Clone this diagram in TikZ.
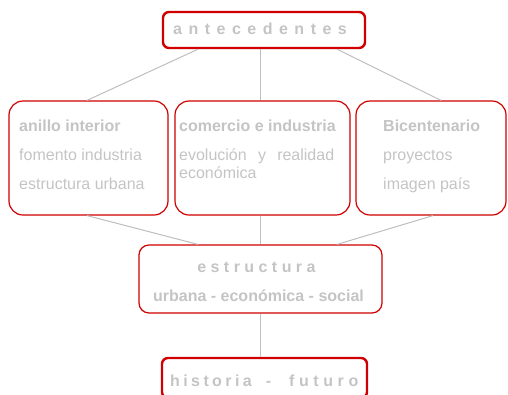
\documentclass[tikz,border=0pt]{standalone}
\usepackage{fontspec}
\setmainfont{Liberation Sans}
\definecolor{rojo}{RGB}{208,0,0}
\definecolor{gris}{RGB}{196,196,196}
\definecolor{linea}{RGB}{190,190,190}

\begin{document}
\begin{tikzpicture}[x=1pt,y=-1pt,
  caja/.style={rectangle,draw=rojo,line width=1.2pt,rounded corners=14pt},
  marco/.style={rectangle,draw=rojo,line width=2.4pt,rounded corners=6pt},
  texto/.style={text=gris,inner sep=0pt,font=\fontsize{16}{19}\selectfont},
  enlace/.style={draw=linea,line width=1pt}]
\clip (0,0) rectangle (508,394);

\node[marco,minimum width=202pt,minimum height=36pt] (ant) at (264,30) {};
\node[caja,minimum width=159pt,minimum height=114pt] (ani) at (88.5,158) {};
\node[caja,minimum width=175pt,minimum height=114pt] (com) at (262.5,158) {};
\node[caja,minimum width=150pt,minimum height=114pt] (bic) at (431,158) {};
\node[caja,rounded corners=10pt,minimum width=243pt,minimum height=68pt] (est) at (260.5,279) {};
\node[marco,minimum width=205pt,minimum height=40pt] (his) at (264.5,378) {};

\node[texto,anchor=base] (tant) at (260,34) {{\bfseries\spaceskip=6.5pt a n t e c e d e n t e s}};
\node[texto,anchor=base west] (tani) at (19,131) {\textbf{anillo interior}};
\node[texto,anchor=base west] (tfom) at (19,160) {fomento industria};
\node[texto,anchor=base west] (tesu) at (19,189) {estructura urbana};
\node[texto,anchor=base west] (tcom) at (179,131) {\textbf{comercio e industria}};
\node[texto,anchor=base west] (tevo) at (179,160) {\makebox[155pt][s]{evolución y realidad}};
\node[texto,anchor=base west] (teco) at (179,178) {económica};
\node[texto,anchor=base west] (tbic) at (383,131) {\textbf{Bicentenario}};
\node[texto,anchor=base west] (tpro) at (383,160) {proyectos};
\node[texto,anchor=base west] (tima) at (383,189) {imagen país};
\node[texto,anchor=base] (test) at (256.5,272) {\textbf{e s t r u c t u r a}};
\node[texto,anchor=base] (turb) at (258.5,301) {\textbf{urbana - económica - social}};
\node[texto,anchor=base west] (this) at (170,386) {{\bfseries\spaceskip=3.4pt h i s t o r i a\hspace{14pt}-\hspace{18pt}\spaceskip=4.6pt f u t u r o}};

\draw[enlace] ([xshift=-66pt]ant.south) -- ([xshift=-1.5pt]ani.north);
\draw[enlace] ([xshift=-4pt]ant.south) -- ([xshift=-2.5pt]com.north);
\draw[enlace] ([xshift=73pt]ant.south) -- ([xshift=10pt]bic.north);
\draw[enlace] ([xshift=-1.5pt]ani.south) -- ([xshift=-62.5pt]est.north);
\draw[enlace] ([xshift=-2.5pt]com.south) -- ([xshift=-0.5pt]est.north);
\draw[enlace] ([xshift=2pt]bic.south) -- ([xshift=76.5pt]est.north);
\draw[enlace] ([xshift=-0.5pt]est.south) -- ([xshift=-4.5pt]his.north);
\end{tikzpicture}
\end{document}
